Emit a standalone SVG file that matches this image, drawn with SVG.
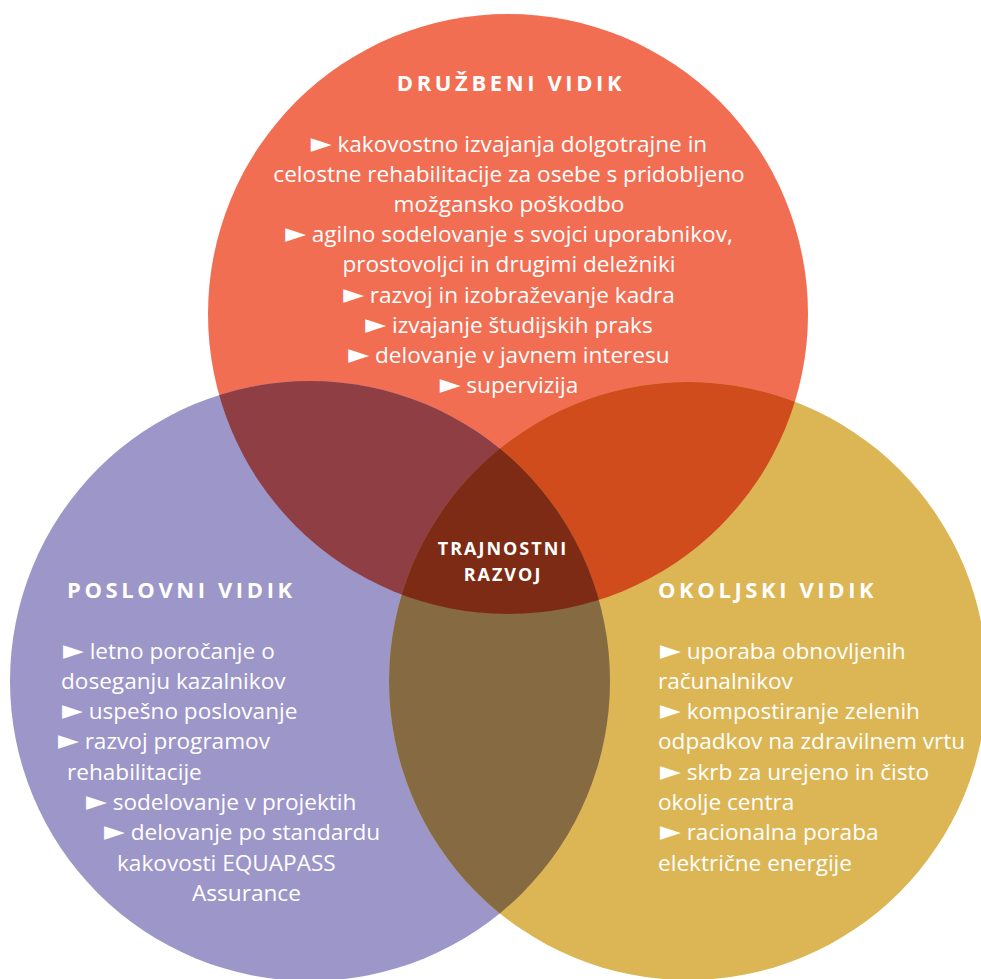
<svg xmlns="http://www.w3.org/2000/svg" width="981" height="979" viewBox="0 0 981 979">
  <style>
    .body { font-family: "Open Sans", "DejaVu Sans", sans-serif; font-size: 22.6px; fill: #ffffff; }
    .b { font-family: "DejaVu Sans", sans-serif; font-size: 27px; }
    .mid { text-anchor: middle; }
    .title { font-family: "Open Sans", "DejaVu Sans", sans-serif; font-size: 22px; font-weight: bold; letter-spacing: 3.6px; fill: #ffffff; }
    .center { font-family: "Open Sans", "DejaVu Sans", sans-serif; font-size: 18px; font-weight: bold; letter-spacing: 2px; fill: #ffffff; text-anchor: middle; }
  </style>
  <defs>
    <clipPath id="clipTop"><circle cx="508" cy="314" r="300"/></clipPath>
    <clipPath id="clipLeft"><circle cx="310" cy="681" r="300"/></clipPath>
    <clipPath id="clipRight"><circle cx="688" cy="681" r="299"/></clipPath>
  </defs>
  <rect x="0" y="0" width="981" height="979" fill="#ffffff"/>

  <g id="node-druzbeni">
    <circle cx="508" cy="314" r="300" fill="#F26E53"/>
  </g>
  <g id="node-poslovni">
    <circle cx="310" cy="681" r="300" fill="#9D96C8"/>
  </g>
  <g id="node-okoljski">
    <circle cx="688" cy="681" r="299" fill="#DCB655"/>
  </g>

  <g id="overlaps">
    <circle cx="310" cy="681" r="300" fill="#8F3F43" clip-path="url(#clipTop)"/>
    <circle cx="688" cy="681" r="299" fill="#D14C1D" clip-path="url(#clipTop)"/>
    <circle cx="688" cy="681" r="299" fill="#856A42" clip-path="url(#clipLeft)"/>
    <g clip-path="url(#clipTop)">
      <circle cx="688" cy="681" r="299" fill="#7D2B15" clip-path="url(#clipLeft)"/>
    </g>
  </g>

  <g id="text-druzbeni">
    <text class="title mid" x="511" y="91">DRUŽBENI VIDIK</text>
    <text class="body mid" x="509" y="152"><tspan class="b">►</tspan> kakovostno izvajanja dolgotrajne in</text>
    <text class="body mid" x="509" y="182">celostne rehabilitacije za osebe s pridobljeno</text>
    <text class="body mid" x="509" y="212">možgansko poškodbo</text>
    <text class="body mid" x="509" y="242"><tspan class="b">►</tspan> agilno sodelovanje s svojci uporabnikov,</text>
    <text class="body mid" x="509" y="272">prostovoljci in drugimi deležniki</text>
    <text class="body mid" x="509" y="303"><tspan class="b">►</tspan> razvoj in izobraževanje kadra</text>
    <text class="body mid" x="509" y="333"><tspan class="b">►</tspan> izvajanje študijskih praks</text>
    <text class="body mid" x="509" y="363"><tspan class="b">►</tspan> delovanje v javnem interesu</text>
    <text class="body mid" x="509" y="393"><tspan class="b">►</tspan> supervizija</text>
  </g>

  <g id="text-poslovni">
    <text class="title" x="67" y="598">POSLOVNI VIDIK</text>
    <text class="body" x="63" y="659"><tspan class="b">►</tspan> letno poročanje o</text>
    <text class="body" x="61" y="689">doseganju kazalnikov</text>
    <text class="body" x="62" y="719"><tspan class="b">►</tspan> uspešno poslovanje</text>
    <text class="body" x="58" y="749"><tspan class="b">►</tspan> razvoj programov</text>
    <text class="body" x="67" y="780">rehabilitacije</text>
    <text class="body" x="86" y="810"><tspan class="b">►</tspan> sodelovanje v projektih</text>
    <text class="body" x="104" y="840"><tspan class="b">►</tspan> delovanje po standardu</text>
    <text class="body" x="117" y="871">kakovosti EQUAPASS</text>
    <text class="body" x="192" y="901">Assurance</text>
  </g>

  <g id="text-okoljski">
    <text class="title" x="658" y="598">OKOLJSKI VIDIK</text>
    <text class="body" x="660" y="659"><tspan class="b">►</tspan> uporaba obnovljenih</text>
    <text class="body" x="658" y="689">računalnikov</text>
    <text class="body" x="660" y="719"><tspan class="b">►</tspan> kompostiranje zelenih</text>
    <text class="body" x="658" y="749">odpadkov na zdravilnem vrtu</text>
    <text class="body" x="660" y="780"><tspan class="b">►</tspan> skrb za urejeno in čisto</text>
    <text class="body" x="658" y="810">okolje centra</text>
    <text class="body" x="660" y="840"><tspan class="b">►</tspan> racionalna poraba</text>
    <text class="body" x="658" y="871">električne energije</text>
  </g>

  <g id="node-trajnostni">
    <text class="center" x="503" y="555">TRAJNOSTNI</text>
    <text class="center" x="503" y="581">RAZVOJ</text>
  </g>
</svg>
